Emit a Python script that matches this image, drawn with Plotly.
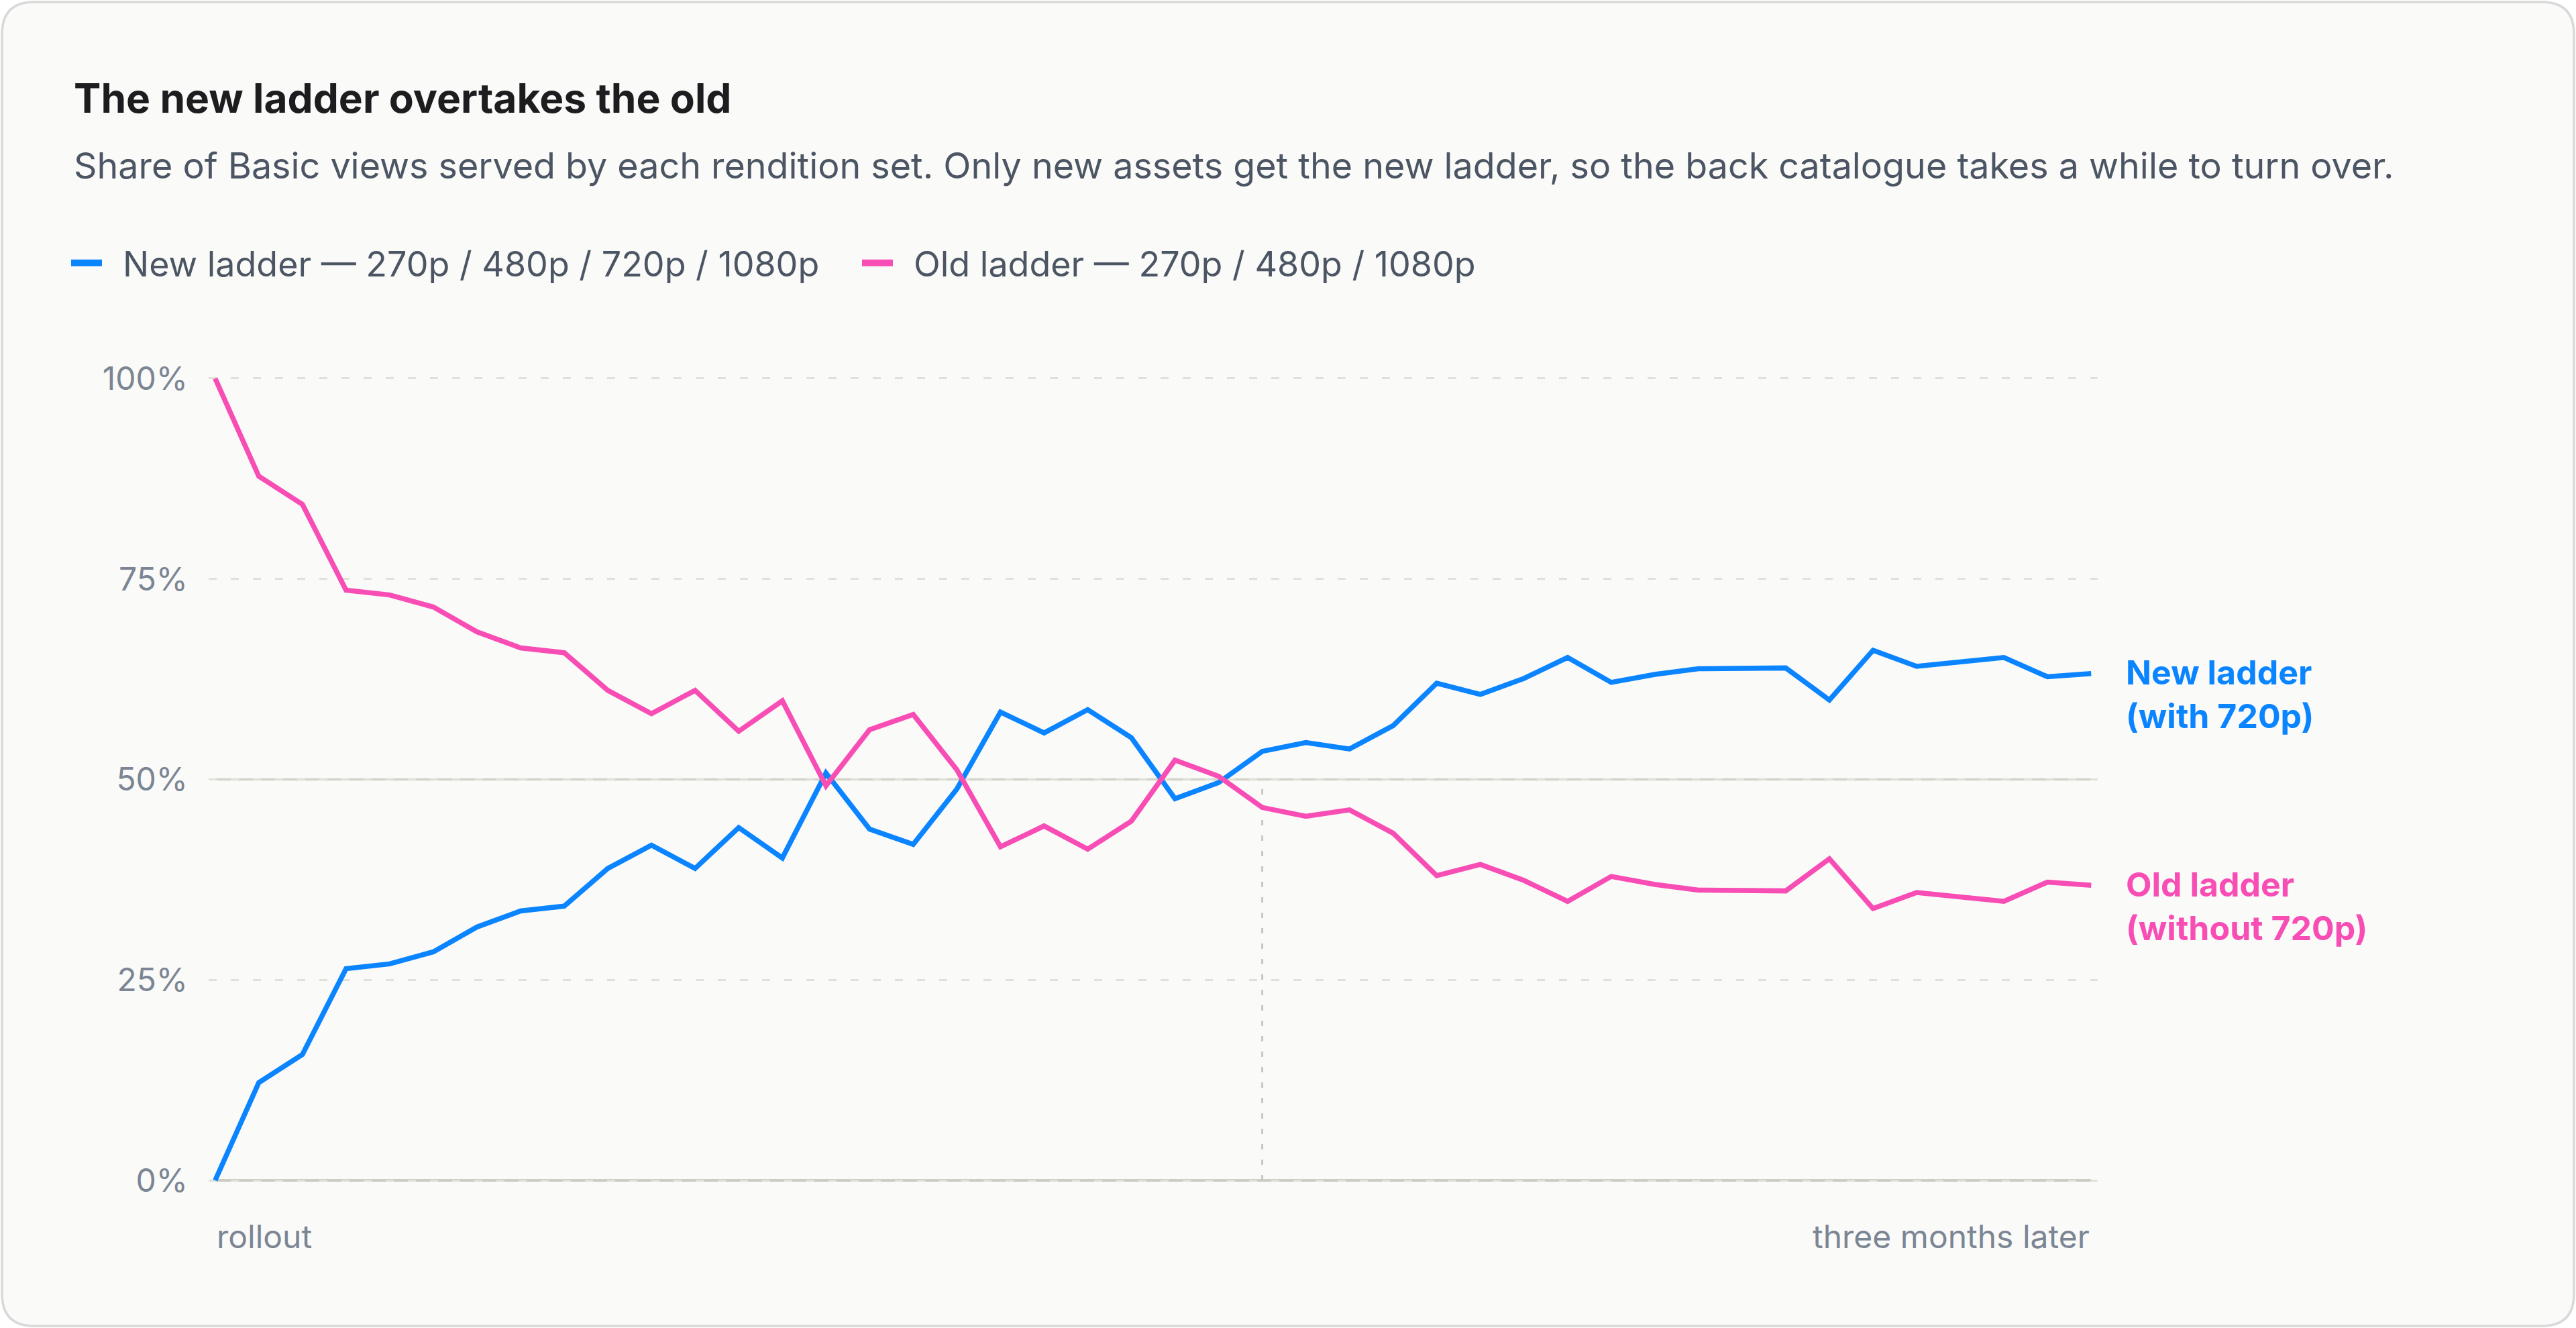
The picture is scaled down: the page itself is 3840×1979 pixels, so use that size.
import plotly.graph_objects as go

# share of Basic views (44 samples, rollout -> three months later)
periods = list(range(44))
new_ladder = [0, 12.2, 15.7, 26.4, 27.0, 28.5, 31.6, 33.6, 34.2, 38.9, 41.8, 38.9, 44.0, 40.2, 50.8,
              43.8, 41.9, 48.8, 58.4, 55.8, 58.7, 55.2, 47.6, 49.6, 53.5, 54.6, 53.8, 56.7, 62.0,
              60.6, 62.6, 65.2, 62.1, 63.1, 63.8, 63.8, 63.9, 59.9, 66.1, 64.1, 64.6, 65.2, 62.8, 63.2]
old_ladder = [100, 87.8, 84.3, 73.6, 73.0, 71.5, 68.4, 66.4, 65.8, 61.1, 58.2, 61.1, 56.0, 59.8, 49.2,
              56.2, 58.1, 51.2, 41.6, 44.2, 41.3, 44.8, 52.4, 50.4, 46.5, 45.4, 46.2, 43.3, 38.0,
              39.4, 37.4, 34.8, 37.9, 36.9, 36.2, 36.2, 36.1, 40.1, 33.9, 35.9, 35.4, 34.8, 37.2, 36.8]
y_ticks = [0, 25, 50, 75, 100]
y_tick_labels = ["0%", "25%", "50%", "75%", "100%"]
x_labels = ["rollout", "three months later"]
series_names = ["New ladder — 270p / 480p / 720p / 1080p", "Old ladder — 270p / 480p / 1080p"]
marker_period = 24

BLUE = "#0a84ff"
PINK = "#f74db4"
FONT = "Inter"
GREY_TXT = "#7b8593"

W, H = 3840, 1979
L, R, T, B = 311, 713, 552, 208
PW, PH = W - L - R, H - T - B


def px_x(px):
    return (px - L) / PW


def px_y(py):
    return (H - B - py) / PH


# rounded card behind everything
x0, y0, x1, y1, rad = 3, 3, 3837, 1976, 48
card = (f"M{px_x(x0 + rad)},{px_y(y0)} L{px_x(x1 - rad)},{px_y(y0)} "
        f"Q{px_x(x1)},{px_y(y0)} {px_x(x1)},{px_y(y0 + rad)} L{px_x(x1)},{px_y(y1 - rad)} "
        f"Q{px_x(x1)},{px_y(y1)} {px_x(x1 - rad)},{px_y(y1)} L{px_x(x0 + rad)},{px_y(y1)} "
        f"Q{px_x(x0)},{px_y(y1)} {px_x(x0)},{px_y(y1 - rad)} L{px_x(x0)},{px_y(y0 + rad)} "
        f"Q{px_x(x0)},{px_y(y0)} {px_x(x0 + rad)},{px_y(y0)} Z")

fig = go.Figure()
fig.add_trace(go.Scatter(x=periods, y=new_ladder, mode="lines", line=dict(color=BLUE, width=7.5),
                         name=series_names[0], showlegend=False))
fig.add_trace(go.Scatter(x=periods, y=old_ladder, mode="lines", line=dict(color=PINK, width=7.5),
                         name=series_names[1], showlegend=False))
# legend-only entries with a chunkier swatch (en space keeps the text off the swatch)
fig.add_trace(go.Scatter(x=[None], y=[None], mode="lines", line=dict(color=BLUE, width=12),
                         name="\u2002" + series_names[0]))
fig.add_trace(go.Scatter(x=[None], y=[None], mode="lines", line=dict(color=PINK, width=12),
                         name="\u2002" + series_names[1]))

fig.add_shape(type="path", path=card, xref="paper", yref="paper", layer="below",
              fillcolor="#fafaf8", line=dict(color="#d9d9d9", width=3.5))
fig.add_shape(type="line", x0=periods[0], x1=periods[-1], y0=50, y1=50, layer="below",
              line=dict(color="#d3d3cc", width=3.5))
fig.add_shape(type="line", x0=periods[0], x1=periods[-1], y0=0, y1=0, layer="below",
              line=dict(color="#cdcdc5", width=4))
fig.add_shape(type="line", x0=marker_period, x1=marker_period, y0=0, y1=50, layer="below",
              line=dict(color="#c9c9c2", width=3, dash="8px,15px"))

fig.add_annotation(text="<b>The new ladder overtakes the old</b>", xref="paper", yref="paper",
                   x=px_x(108), y=px_y(146), xanchor="left", yanchor="middle", showarrow=False,
                   font=dict(family=FONT, size=60.5, color="#1d1d1f"))
fig.add_annotation(text="Share of Basic views served by each rendition set. Only new assets get the new "
                        "ladder, so the back catalogue takes a while to turn over.",
                   xref="paper", yref="paper", x=px_x(108), y=px_y(246), xanchor="left",
                   yanchor="middle", showarrow=False, font=dict(family=FONT, size=53.8, color="#4b5563"))

fig.add_annotation(text=x_labels[0], x=periods[0], y=0, xanchor="left", yanchor="middle", yshift=-83,
                   showarrow=False, font=dict(family=FONT, size=48, color=GREY_TXT))
fig.add_annotation(text=x_labels[1], x=periods[-1], y=0, xanchor="right", yanchor="middle", yshift=-83,
                   showarrow=False, font=dict(family=FONT, size=48, color=GREY_TXT))

fig.add_annotation(text="<b>New ladder<br>(with 720p)</b>", x=periods[-1], y=new_ladder[-1],
                   xanchor="left", yanchor="middle", xshift=50, yshift=-31, align="left",
                   showarrow=False, font=dict(family=FONT, size=50, color=BLUE))
fig.add_annotation(text="<b>Old ladder<br>(without 720p)</b>", x=periods[-1], y=old_ladder[-1],
                   xanchor="left", yanchor="middle", xshift=50, yshift=-31, align="left",
                   showarrow=False, font=dict(family=FONT, size=50, color=PINK))

fig.update_layout(
    width=W, height=H,
    margin=dict(l=L, r=R, t=T, b=B),
    paper_bgcolor="white",
    plot_bgcolor="rgba(0,0,0,0)",
    font=dict(family=FONT),
    legend=dict(orientation="h", xref="container", yref="container", x=101 / W, y=1 - 392 / H,
                xanchor="left", yanchor="middle", itemwidth=46, entrywidth=1118,
                font=dict(family=FONT, size=52, color="#4b5563"), bgcolor="rgba(0,0,0,0)"),
    xaxis=dict(range=[-0.15, 43.15], showgrid=False, zeroline=False, showticklabels=False,
               showline=False, ticks=""),
    yaxis=dict(range=[-1, 101], tickvals=y_ticks, ticktext=y_tick_labels, showgrid=True,
               gridcolor="#e1e1dc", gridwidth=3, griddash="12px,21px", zeroline=False,
               showline=False, ticks="", ticklabelstandoff=30,
               tickfont=dict(family=FONT, size=48, color=GREY_TXT)),
)

# drop the default 8px body margin so the figure sits flush in the window
fig.write_html("out.html", config={"displayModeBar": False},
               post_script="document.body.style.margin='0';")
